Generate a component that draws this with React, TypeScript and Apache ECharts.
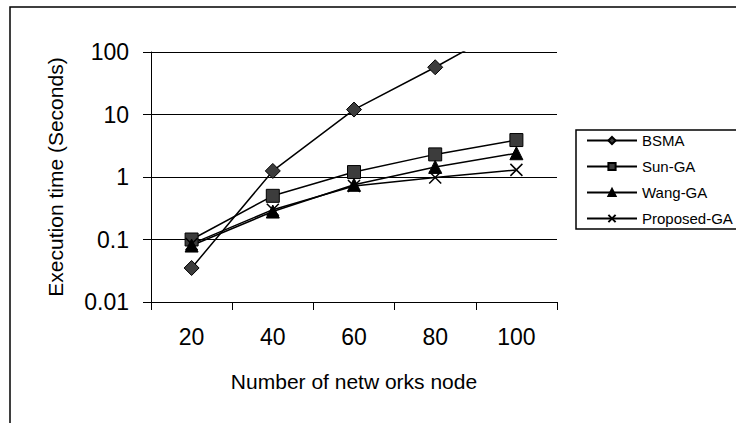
import React, { useEffect, useRef } from "react";
import * as echarts from "echarts";

const categories = ["20", "40", "60", "80", "100"];
const bsma = [0.035, 1.25, 12, 57, 300];
const sunGA = [0.1, 0.5, 1.2, 2.3, 3.9];
const wangGA = [0.08, 0.28, 0.75, 1.45, 2.4];
const proposedGA = [0.085, 0.3, 0.72, 0.98, 1.3];

const FONT = "'Liberation Sans', Arial, sans-serif";

export default function App() {
  const ref = useRef<HTMLDivElement>(null);
  useEffect(() => {
    if (!ref.current) return;
    const chart = echarts.init(ref.current, undefined, { renderer: "svg" });
    const lineBase = {
      type: "line" as const,
      lineStyle: { color: "#000", width: 1.5 },
      clip: true,
    };
    chart.setOption({
      animation: false,
      backgroundColor: "#fff",
      textStyle: { fontFamily: FONT, color: "#000" },
      graphic: [
        {
          type: "rect",
          shape: { x: 10, y: 7, width: 740, height: 430 },
          style: { fill: "none", stroke: "#000", lineWidth: 1.5 },
          z: -1,
        },
      ],
      grid: { left: 151, right: 179, top: 52, bottom: 121, containLabel: false },
      legend: {
        orient: "vertical",
        left: 576,
        top: 130,
        itemWidth: 50,
        itemHeight: 9,
        itemGap: 11,
        padding: [3, 4, 3, 10],
        borderColor: "#000",
        borderWidth: 1.5,
        backgroundColor: "#fff",
        textStyle: { fontFamily: FONT, fontSize: 15, color: "#000" },
        data: ["BSMA", "Sun-GA", "Wang-GA", "Proposed-GA"],
      },
      xAxis: {
        type: "category",
        data: categories,
        boundaryGap: true,
        axisLine: { lineStyle: { color: "#000", width: 1 } },
        axisTick: { show: true, inside: false, length: 8, lineStyle: { color: "#000" } },
        axisLabel: { fontFamily: FONT, fontSize: 23, color: "#000", margin: 23 },
        name: "Number of netw orks node",
        nameLocation: "middle",
        nameGap: 69,
        nameTextStyle: { fontFamily: FONT, fontSize: 21, color: "#000" },
        splitLine: { show: false },
      },
      yAxis: {
        type: "log",
        logBase: 10,
        min: 0.01,
        max: 100,
        axisLine: { show: true, lineStyle: { color: "#000", width: 1 } },
        axisTick: { show: true, inside: false, length: 8, lineStyle: { color: "#000" } },
        axisLabel: {
          fontFamily: FONT,
          fontSize: 23,
          color: "#000",
          margin: 22,
          formatter: (v: number) => String(+v.toPrecision(3)),
        },
        splitLine: { show: true, lineStyle: { color: "#000", width: 1 } },
        name: "Execution time (Seconds)",
        nameLocation: "middle",
        nameGap: 85,
        nameTextStyle: { fontFamily: FONT, fontSize: 21, color: "#000" },
      },
      series: [
        {
          ...lineBase,
          name: "BSMA",
          data: bsma,
          symbol: "diamond",
          symbolSize: 15,
          itemStyle: { color: "#3c3c3c", borderColor: "#000", borderWidth: 1 },
        },
        {
          ...lineBase,
          name: "Sun-GA",
          data: sunGA,
          symbol: "rect",
          symbolSize: 13,
          itemStyle: { color: "#3c3c3c", borderColor: "#000", borderWidth: 1 },
        },
        {
          ...lineBase,
          name: "Wang-GA",
          data: wangGA,
          symbol: "triangle",
          symbolSize: 13,
          itemStyle: { color: "#000", borderColor: "#000", borderWidth: 1 },
        },
        {
          ...lineBase,
          name: "Proposed-GA",
          data: proposedGA,
          symbol: "path://M0,0L10,10M10,0L0,10",
          symbolSize: 12,
          itemStyle: { color: "none", borderColor: "#000", borderWidth: 1.5 },
        },
      ],
    });
    return () => chart.dispose();
  }, []);
  return (
    <div
      ref={ref}
      style={{ position: "fixed", left: 0, top: 0, width: 736, height: 423 }}
    />
  );
}
